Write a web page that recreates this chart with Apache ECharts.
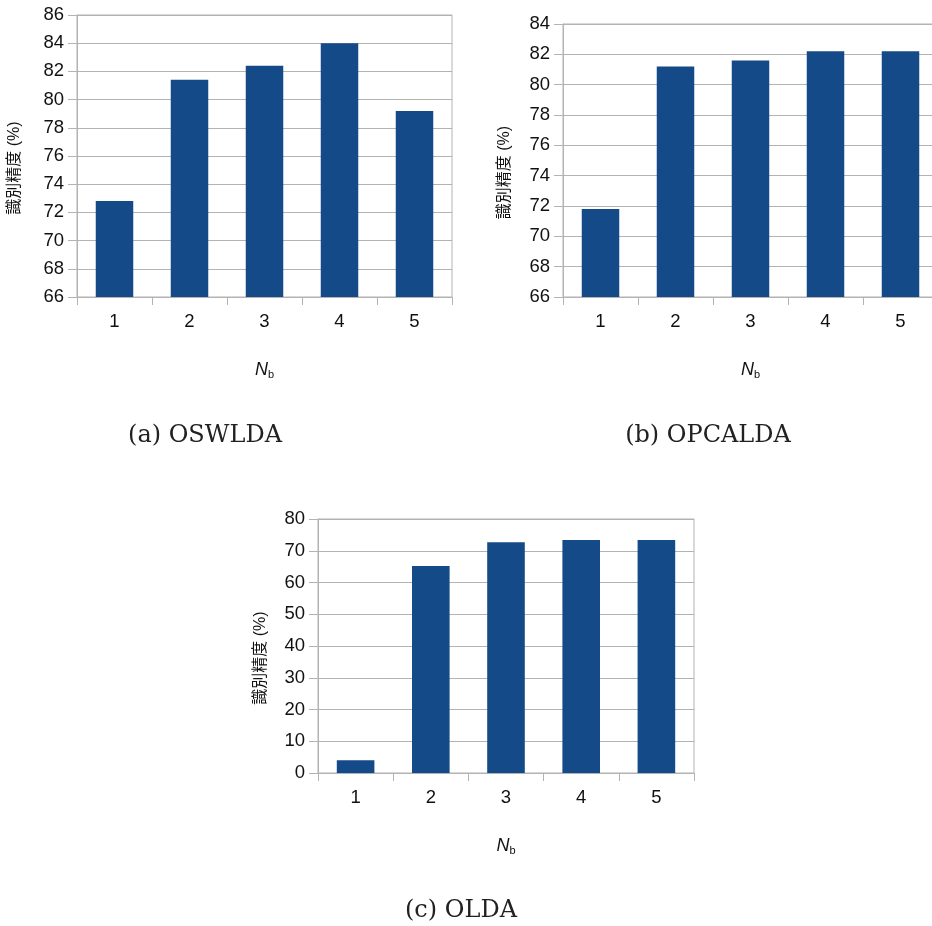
<!DOCTYPE html>
<html>
<head>
<meta charset="utf-8">
<script src="https://cdn.jsdelivr.net/npm/echarts@6/dist/echarts.min.js"></script>
<style>
  html, body { margin: 0; padding: 0; background: #fff; overflow: hidden; }
  /* a bit wider than the window: panel (b) runs past the right edge */
  #chart { width: 944px; height: 926px; }
</style>
</head>
<body>
<div id="chart"></div>
<script>
// data
const categories = ['1', '2', '3', '4', '5']
const oswlda = [72.8, 81.4, 82.4, 84.0, 79.2]
const opcalda = [71.8, 81.2, 81.6, 82.2, 82.2]
const olda = [4.0, 65.2, 72.7, 73.4, 73.4]
const captions = ['(a) OSWLDA', '(b) OPCALDA', '(c) OLDA']
const yName = '識別精度 (%)'

const barColor = '#144a87'
const lineColor = '#b3b3b3'
const sans = 'Liberation Sans, Arial, "Noto Sans CJK JP", sans-serif'

// three panels: grid box, y range, name gap
const panels = [
  { grid: { left: 77, top: 15, width: 375, height: 282 }, min: 66, max: 86, interval: 2, gap: 54, data: oswlda },
  { grid: { left: 563, top: 24, width: 375, height: 273 }, min: 66, max: 84, interval: 2, gap: 50, data: opcalda },
  { grid: { left: 318, top: 519, width: 376, height: 254 }, min: 0, max: 80, interval: 10, gap: 49, data: olda }
]
const captionPos = [[205, 436], [708, 436], [461, 911]]

const chart = echarts.init(document.getElementById('chart'))

const option = {
  animation: false,
  backgroundColor: '#fff',
  grid: panels.map(p => ({
    ...p.grid,
    show: true,
    borderColor: lineColor,
    borderWidth: 1,
    backgroundColor: 'transparent'
  })),
  xAxis: panels.map((p, i) => ({
    type: 'category',
    gridIndex: i,
    data: categories,
    axisLine: { lineStyle: { color: lineColor } },
    axisTick: { show: true, length: 8, lineStyle: { color: lineColor } },
    axisLabel: { color: '#111', fontSize: 18.5, fontFamily: sans, margin: 16 },
    name: '{n|N}{s|b}',
    nameLocation: 'middle',
    nameGap: 62,
    nameTextStyle: {
      rich: {
        n: { fontSize: 18, fontStyle: 'italic', fontFamily: sans, color: '#111', lineHeight: 22 },
        s: { fontSize: 11, fontFamily: sans, color: '#111', lineHeight: 22, padding: [10, 0, 0, 0] }
      }
    }
  })),
  yAxis: panels.map((p, i) => ({
    type: 'value',
    gridIndex: i,
    min: p.min,
    max: p.max,
    interval: p.interval,
    axisLine: { show: true, lineStyle: { color: lineColor } },
    axisTick: { show: true, length: 9, lineStyle: { color: lineColor } },
    axisLabel: { color: '#111', fontSize: 18.5, fontFamily: sans, margin: 13 },
    splitLine: { lineStyle: { color: lineColor } },
    name: yName,
    nameLocation: 'middle',
    nameRotate: 90,
    nameGap: p.gap,
    nameTextStyle: { fontSize: 16, fontFamily: sans, color: '#111', padding: [0, 24, 0, 0] }
  })),
  series: panels.map((p, i) => ({
    type: 'bar',
    xAxisIndex: i,
    yAxisIndex: i,
    data: p.data,
    barWidth: '50%',
    itemStyle: { color: barColor }
  })),
  graphic: captions.map((t, i) => ({
    type: 'text',
    x: captionPos[i][0],
    y: captionPos[i][1],
    style: {
      text: t,
      fill: '#222',
      fontSize: 24,
      fontFamily: 'DejaVu Serif, Liberation Serif, serif',
      align: 'center',
      verticalAlign: 'middle'
    }
  }))
}

chart.setOption(option)
</script>
</body>
</html>
